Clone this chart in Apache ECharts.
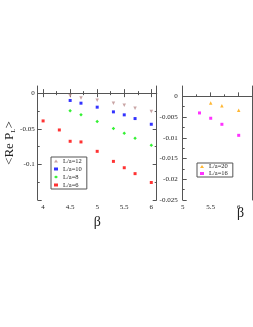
<!DOCTYPE html>
<html><head><meta charset="utf-8">
<script src="https://cdn.jsdelivr.net/npm/echarts@6/dist/echarts.min.js"></script>
<style>html,body{margin:0;padding:0;background:#fff}#c{width:253px;height:327px}</style>
</head><body><div id="c"></div>
<script>
// ---- data ----
const beta12 = [4.5, 4.7, 5.0, 5.3, 5.5, 5.7, 6.0];
const val12  = [-0.0038, -0.0070, -0.0099, -0.0141, -0.0169, -0.0211, -0.0258];
const beta10 = [4.5, 4.7, 5.0, 5.3, 5.5, 5.7, 6.0];
const val10  = [-0.0103, -0.0141, -0.0197, -0.0263, -0.0305, -0.0357, -0.0437];
const beta8  = [4.5, 4.7, 5.0, 5.3, 5.5, 5.7, 6.0];
const val8   = [-0.0249, -0.0305, -0.0399, -0.0498, -0.0563, -0.0634, -0.0732];
const beta6  = [4.0, 4.3, 4.5, 4.7, 5.0, 5.3, 5.5, 5.7, 6.0];
const val6   = [-0.0390, -0.0517, -0.0676, -0.0685, -0.0817, -0.0958, -0.1047, -0.1130, -0.1254];
const beta20 = [5.5, 5.7, 6.0];
const val20  = [-0.00163, -0.00225, -0.00334];
const beta16 = [5.3, 5.5, 5.7, 6.0];
const val16  = [-0.0040, -0.00528, -0.00674, -0.0094];

// ---- ticks ----
const leftXMajor = [4, 4.5, 5, 5.5, 6];
const leftXMinor = [4.25, 4.75, 5.25, 5.75];
const leftYMajor = [-0.15, -0.1, -0.05, 0];
const leftYLabels = [-0.1, -0.05, 0];
const leftYMinor = [-0.125, -0.075, -0.025];
const rightXMajor = [5, 5.5, 6];
const rightXMinor = [5.25, 5.75];
const rightYMajor = [-0.025, -0.02, -0.015, -0.01, -0.005, 0];
const rightYMinor = [-0.0225, -0.0175, -0.0125, -0.0075, -0.0025];

const pairs = (b, v) => b.map((x, i) => [x, v[i]]);
const FONT = 'Liberation Serif';
const AX = '#555';
const labelStyle = { fontFamily: FONT, fontSize: 7, color: '#222' };

function majorX(grid, min, max, major, pos, labels, extra) {
  return Object.assign({
    type: 'value', gridIndex: grid, min, max, position: pos,
    axisLine: { show: true, lineStyle: { color: AX, width: 1 } },
    axisTick: { show: true, inside: true, length: 4, customValues: major, lineStyle: { color: AX } },
    axisLabel: labels ? Object.assign({ show: true, margin: 4, customValues: major }, labelStyle) : { show: false },
    splitLine: { show: false }
  }, extra || {});
}
function minorX(grid, min, max, minor, pos) {
  return {
    type: 'value', gridIndex: grid, min, max, position: pos,
    axisLine: { show: false },
    axisTick: { show: true, inside: true, length: 2, customValues: minor, lineStyle: { color: AX } },
    axisLabel: { show: false }, splitLine: { show: false }
  };
}

const option = {
  backgroundColor: '#fff',
  animation: false,
  grid: [
    { left: 37.7, top: 86, width: 119, height: 114 },
    { left: 182.7, top: 86, width: 70, height: 114 }
  ],
  xAxis: [
    majorX(0, 3.9, 6.1, leftXMajor, 'bottom', true, {
      name: 'β', nameLocation: 'middle', nameGap: 15,
      nameTextStyle: { fontFamily: FONT, fontSize: 14, color: '#222' }
    }),
    minorX(0, 3.9, 6.1, leftXMinor, 'bottom'),
    majorX(0, 3.9, 6.1, leftXMajor, 'top', false),
    minorX(0, 3.9, 6.1, leftXMinor, 'top'),
    majorX(1, 5, 6.25, rightXMajor, 'bottom', true),
    minorX(1, 5, 6.25, rightXMinor, 'bottom'),
    majorX(1, 5, 6.25, [], 'top', false, { axisTick: { show: false } })
  ],
  yAxis: [
    majorX(0, -0.15, 0.01, leftYMajor, 'left', false, {
      axisLabel: Object.assign({ show: true, margin: 3, customValues: leftYLabels }, labelStyle),
      name: '<Re P{s|L}>', nameLocation: 'middle', nameGap: 20, nameRotate: 90,
      nameTextStyle: { fontFamily: FONT, fontSize: 13, color: '#222',
        rich: { s: { fontFamily: FONT, fontSize: 7, color: '#222', verticalAlign: 'bottom', lineHeight: 13 } } }
    }),
    minorX(0, -0.15, 0.01, leftYMinor, 'left'),
    majorX(0, -0.15, 0.01, leftYMajor, 'right', false),
    minorX(0, -0.15, 0.01, leftYMinor, 'right'),
    majorX(1, -0.025, 0.0025, rightYMajor, 'left', true, { axisLabel: Object.assign({ show: true, margin: 5, customValues: rightYMajor }, labelStyle) }),
    minorX(1, -0.025, 0.0025, rightYMinor, 'left'),
    majorX(1, -0.025, 0.0025, [], 'right', false, { axisTick: { show: false } })
  ],
  legend: [
    {
      data: ['L/a=12', 'L/a=10', 'L/a=8', 'L/a=6'],
      orient: 'vertical', left: 51, top: 157, itemWidth: 4, itemHeight: 3, itemGap: 0,
      padding: [0, 5, 0, 3], borderColor: AX, borderWidth: 1,
      textStyle: { fontFamily: FONT, fontSize: 6.5, lineHeight: 8, color: '#222' }
    },
    {
      data: ['L/a=20', 'L/a=16'],
      orient: 'vertical', left: 197, top: 163, itemWidth: 4, itemHeight: 3, itemGap: 0,
      padding: [0, 5, 0, 3], borderColor: AX, borderWidth: 1,
      textStyle: { fontFamily: FONT, fontSize: 6.5, lineHeight: 6.5, color: '#222' }
    }
  ],
  graphic: [
    { type: 'text', left: 237, top: 206, style: { text: 'β', fontFamily: FONT, fontSize: 14, fill: '#222' } }
  ],
  series: [
    { name: 'L/a=12', type: 'scatter', xAxisIndex: 0, yAxisIndex: 0, data: pairs(beta12, val12),
      symbol: 'triangle', symbolRotate: 180, symbolSize: 3.5, itemStyle: { color: '#bc8f8f' },
      markLine: { silent: true, symbol: 'none', label: { show: false }, lineStyle: { color: AX, width: 1, type: 'solid' }, data: [{ yAxis: 0 }] } },
    { name: 'L/a=10', type: 'scatter', xAxisIndex: 0, yAxisIndex: 0, data: pairs(beta10, val10),
      symbol: 'rect', symbolSize: 3, itemStyle: { color: '#0000ff' } },
    { name: 'L/a=8', type: 'scatter', xAxisIndex: 0, yAxisIndex: 0, data: pairs(beta8, val8),
      symbol: 'diamond', symbolSize: 3.5, itemStyle: { color: '#00ee00' } },
    { name: 'L/a=6', type: 'scatter', xAxisIndex: 0, yAxisIndex: 0, data: pairs(beta6, val6),
      symbol: 'rect', symbolSize: 3, itemStyle: { color: '#ff0000' } },
    { name: 'L/a=20', type: 'scatter', xAxisIndex: 4, yAxisIndex: 4, data: pairs(beta20, val20),
      symbol: 'triangle', symbolSize: 3.5, itemStyle: { color: '#ffa500' },
      markLine: { silent: true, symbol: 'none', label: { show: false }, lineStyle: { color: AX, width: 1, type: 'solid' }, data: [{ yAxis: 0 }] } },
    { name: 'L/a=16', type: 'scatter', xAxisIndex: 4, yAxisIndex: 4, data: pairs(beta16, val16),
      symbol: 'rect', symbolSize: 3, itemStyle: { color: '#ff00ff' } }
  ]
};
const chart = echarts.init(document.getElementById('c'), null, { renderer: 'canvas' });
chart.setOption(option);
</script></body></html>
